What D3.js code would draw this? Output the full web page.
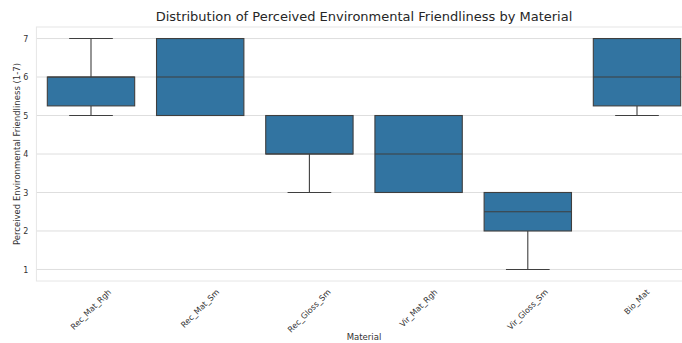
<!DOCTYPE html>
<html>
<head>
<meta charset="utf-8">
<script src="https://cdn.jsdelivr.net/npm/d3@7"></script>
<style>
  html, body { margin: 0; padding: 0; background: #fff; }
  svg { display: block; font-family: "DejaVu Sans", sans-serif; }
</style>
</head>
<body>
<svg id="chart" width="682" height="343"></svg>
<script>
// Materials on the x axis
const materials = ["Rec_Mat_Rgh", "Rec_Mat_Sm", "Rec_Gloss_Sm", "Vir_Mat_Rgh", "Vir_Gloss_Sm", "Bio_Mat"];
// Five-number summaries of the 1-7 ratings per material
const whiskerLow  = [5, 5, 3, 3, 1, 5];
const quartile1   = [5.25, 5, 4, 3, 2, 5.25];
const medians     = [6, 6, 4, 4, 2.5, 6];
const quartile3   = [6, 7, 5, 5, 3, 7];
const whiskerHigh = [7, 7, 5, 5, 3, 7];
const yTicks = [1, 2, 3, 4, 5, 6, 7];

const svg = d3.select("#chart");
const plot = { left: 36.4, right: 691.6, top: 27, bottom: 281 };

const x = d3.scaleBand().domain(materials).range([plot.left, plot.right]).padding(0);
const y = d3.scaleLinear().domain([0.7, 7.3]).range([plot.bottom, plot.top]);

const gridColor = "#dedede";
const textColor = "#333";
const lineColor = "#3f3f3f";

// horizontal grid
svg.append("g").selectAll("line").data(yTicks).join("line")
  .attr("x1", plot.left).attr("x2", plot.right)
  .attr("y1", d => y(d)).attr("y2", d => y(d))
  .attr("stroke", gridColor).attr("stroke-width", 1);

// frame
svg.append("rect")
  .attr("x", plot.left).attr("y", plot.top)
  .attr("width", plot.right - plot.left).attr("height", plot.bottom - plot.top)
  .attr("fill", "none").attr("stroke", "#e6e6e6").attr("stroke-width", 1);

// y axis tick labels
const yAxis = d3.axisLeft(y).tickValues(yTicks).tickSize(0).tickPadding(8).tickFormat(d3.format("d"));
const gy = svg.append("g").attr("transform", `translate(${plot.left},0)`).call(yAxis);
gy.select(".domain").remove();
gy.selectAll("text").attr("fill", textColor).attr("font-size", 8).attr("font-family", "DejaVu Sans, sans-serif");

// boxes
const bw = x.bandwidth() * 0.8;
const boxes = svg.append("g").selectAll("g").data(materials).join("g")
  .attr("transform", d => `translate(${x(d) + x.bandwidth() / 2},0)`);

boxes.append("line") // lower whisker
  .attr("x1", 0).attr("x2", 0)
  .attr("y1", (d, i) => y(whiskerLow[i])).attr("y2", (d, i) => y(quartile1[i]))
  .attr("stroke", lineColor).attr("stroke-width", 1.1);
boxes.append("line") // upper whisker
  .attr("x1", 0).attr("x2", 0)
  .attr("y1", (d, i) => y(whiskerHigh[i])).attr("y2", (d, i) => y(quartile3[i]))
  .attr("stroke", lineColor).attr("stroke-width", 1.1);
boxes.append("line") // lower cap
  .attr("x1", -bw / 4).attr("x2", bw / 4)
  .attr("y1", (d, i) => y(whiskerLow[i])).attr("y2", (d, i) => y(whiskerLow[i]))
  .attr("stroke", lineColor).attr("stroke-width", 1.1);
boxes.append("line") // upper cap
  .attr("x1", -bw / 4).attr("x2", bw / 4)
  .attr("y1", (d, i) => y(whiskerHigh[i])).attr("y2", (d, i) => y(whiskerHigh[i]))
  .attr("stroke", lineColor).attr("stroke-width", 1.1);
boxes.append("rect")
  .attr("x", -bw / 2).attr("width", bw)
  .attr("y", (d, i) => y(quartile3[i]))
  .attr("height", (d, i) => y(quartile1[i]) - y(quartile3[i]))
  .attr("fill", "#3274a1").attr("stroke", lineColor).attr("stroke-width", 1.1);
boxes.append("line") // median
  .attr("x1", -bw / 2).attr("x2", bw / 2)
  .attr("y1", (d, i) => y(medians[i])).attr("y2", (d, i) => y(medians[i]))
  .attr("stroke", lineColor).attr("stroke-width", 1.1);

// x tick labels, rotated 45 degrees and centred under each box
const labelTop = plot.bottom + 7;
const xl = svg.append("g").selectAll("text").data(materials).join("text")
  .attr("font-size", 8).attr("fill", textColor)
  .attr("text-anchor", "middle").attr("dominant-baseline", "central")
  .text(d => d);
xl.each(function (d) {
  const w = this.getComputedTextLength();
  const half = (w + 8) * Math.SQRT1_2 / 2;
  const cx = x(d) + x.bandwidth() / 2;
  const cy = labelTop + half;
  d3.select(this).attr("transform", `translate(${cx},${cy}) rotate(-45)`);
});

// axis titles
svg.append("text").attr("x", 364).attr("y", 340)
  .attr("text-anchor", "middle").attr("font-size", 8.5).attr("fill", textColor)
  .text("Material");
svg.append("text")
  .attr("transform", `translate(20,${(plot.top + plot.bottom) / 2}) rotate(-90)`)
  .attr("text-anchor", "middle").attr("font-size", 8.5).attr("fill", textColor)
  .text("Perceived Environmental Friendliness (1-7)");

// chart title
svg.append("text").attr("x", 364).attr("y", 21)
  .attr("text-anchor", "middle").attr("font-size", 13).attr("fill", "#262626")
  .text("Distribution of Perceived Environmental Friendliness by Material");
</script>
</body>
</html>
